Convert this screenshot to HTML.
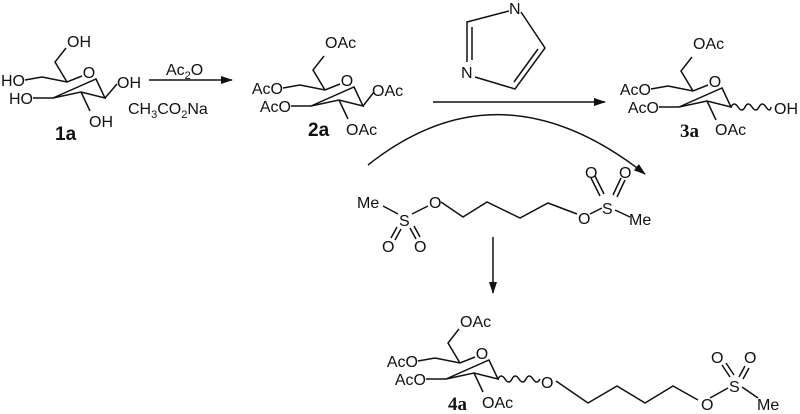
<!DOCTYPE html>
<html><head><meta charset="utf-8"><style>
body{margin:0;background:#fff}
svg{display:block}
text{font-family:"Liberation Sans",sans-serif;font-size:16px;fill:#111}
.e{text-anchor:end}
.m{text-anchor:middle}
.b{font-weight:bold;font-size:19px}
.s{font-family:"Liberation Serif",serif;font-weight:bold;font-size:19px}
</style></head><body>
<svg width="800" height="414" viewBox="0 0 800 414" xmlns="http://www.w3.org/2000/svg">
<defs>
<marker id="ah" markerWidth="12" markerHeight="8" refX="11" refY="4" orient="auto" markerUnits="userSpaceOnUse"><path d="M0,0 L12,4 L0,8 Z" fill="#111"/></marker>
<g id="ring" fill="none" stroke="#111" stroke-width="1.5">
<path d="M0,0 L25,5 L40,-1 M54,2 L63,21 L39,15 L11,21 Z"/>
<path d="M25,5 L13,-15 L24,-29"/>
<path d="M0,0 L-17,3 M11,21 L-9,21 M39,15 L48,34"/>
</g>
</defs>
<g stroke="#111" stroke-width="1.5" fill="none">
<use href="#ring" x="42" y="77"/>
<path d="M105,98 L117,84"/>
<use href="#ring" x="300" y="85"/>
<path d="M363,106 L374,92"/>
<use href="#ring" x="668" y="86"/>
<path d="M731,107 q3,-6 7,0 t7,0 t7,0 t7,0 t7,0 t5,0"/>
<use href="#ring" x="435" y="358"/>
<path d="M498,379 q3,-6 7,0 t7,0 t7,0 t7,0 t7,0 t7,0"/>
<path d="M556,381 L588,403 L617,386 L645,403 L673,386 L698,400 M710,398 L728,388 M742,387 L758,398"/>
<path d="M722,365 L730,377 M726,363 L734,375 M745,366 L739,377 M749,368 L743,379"/>
<path d="M149,80 L232,80" marker-end="url(#ah)"/>
<path d="M433,102 L605,102" marker-end="url(#ah)"/>
<path d="M368,165 Q500,60 645,174" marker-end="url(#ah)"/>
<path d="M493,237 L493,293" marker-end="url(#ah)"/>
<path d="M509,11 L467,22 L467,62 M472,27 L472,60 M475,77 L515,89 L545,48 L521,12 M514,82 L538,49"/>
<path d="M383,206 L398,214 M412,214 L428,206 M441,202 L463,217 L487,202 L520,218 L548,203 L577,214 M590,214 L602,208 M615,210 L630,217"/>
<path d="M397,227 L391,238 M401,229 L395,240 M410,228 L416,239 M414,226 L420,237"/>
<path d="M591,178 L600,196 M595,176 L604,194 M621,178 L613,195 M625,180 L617,197"/>
</g>
<text x="67" y="47">OH</text>
<text class="e" x="25" y="86">HO</text>
<text class="e" x="33" y="104">HO</text>
<text class="m" x="89" y="78">O</text>
<text x="117" y="88">OH</text>
<text x="89" y="127">OH</text>
<text class="b" x="55" y="140">1a</text>
<text x="166" y="75">Ac<tspan font-size="11" dy="4">2</tspan><tspan dy="-4">O</tspan></text>
<text x="128" y="114">CH<tspan font-size="11" dy="4">3</tspan><tspan dy="-4">CO</tspan><tspan font-size="11" dy="4">2</tspan><tspan dy="-4">Na</tspan></text>
<text x="325" y="48">OAc</text>
<text class="e" x="283" y="94">AcO</text>
<text class="e" x="291" y="112">AcO</text>
<text class="m" x="347" y="86">O</text>
<text x="372" y="96">OAc</text>
<text x="346" y="135">OAc</text>
<text class="b" x="308" y="136">2a</text>
<text x="509" y="14">N</text>
<text x="461" y="78">N</text>
<text x="693" y="49">OAc</text>
<text class="e" x="651" y="95">AcO</text>
<text class="e" x="659" y="113">AcO</text>
<text class="m" x="715" y="87">O</text>
<text x="774" y="114">OH</text>
<text x="715" y="135">OAc</text>
<text class="s" x="680" y="137">3a</text>
<text x="357" y="208">Me</text>
<text x="399" y="226">S</text>
<text x="429" y="208">O</text>
<text x="382" y="252">O</text>
<text x="414" y="252">O</text>
<text x="578" y="224">O</text>
<text x="602" y="214">S</text>
<text x="629" y="225">Me</text>
<text x="585" y="178">O</text>
<text x="619" y="178">O</text>
<text x="460" y="327">OAc</text>
<text class="e" x="418" y="367">AcO</text>
<text class="e" x="426" y="385">AcO</text>
<text class="m" x="482" y="359">O</text>
<text x="541" y="388">O</text>
<text x="482" y="408">OAc</text>
<text class="s" x="448" y="410">4a</text>
<text x="701" y="410">O</text>
<text x="729" y="392">S</text>
<text x="757" y="410">Me</text>
<text x="711" y="363">O</text>
<text x="744" y="363">O</text>
</svg>
</body></html>
